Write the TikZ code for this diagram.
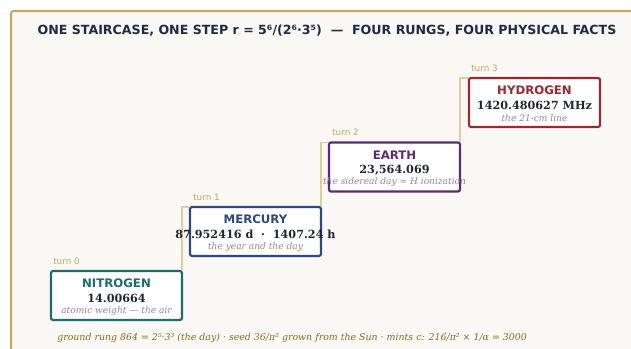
\documentclass[tikz,border=0pt]{standalone}
\usepackage{fontspec}
\setmainfont{DejaVu Serif}
\setsansfont{DejaVu Sans}
\usetikzlibrary{calc}
\definecolor{frame}{HTML}{C9A85A}
\definecolor{bgpaper}{HTML}{FAF8F4}
\definecolor{riser}{HTML}{E3CD96}
\definecolor{titlec}{HTML}{1F2A44}
\definecolor{numc}{HTML}{1F2733}
\definecolor{subc}{HTML}{8A8A95}
\definecolor{turnc}{HTML}{C9A55A}
\definecolor{footc}{HTML}{8C6A1E}
\definecolor{cN}{HTML}{1E6B70}
\definecolor{cM}{HTML}{2A4A80}
\definecolor{cE}{HTML}{5C2C73}
\definecolor{cH}{HTML}{9B2A2E}
\tikzset{
  rung/.style={draw=#1, line width=1.6pt, fill=white, rounded corners=1.5pt, minimum width=98.25pt, minimum height=36.75pt, inner sep=0pt},
  rname/.style={text=#1, font=\sffamily\bfseries\fontsize{8.8}{10}\selectfont, inner sep=0pt},
  rnum/.style={text=numc, font=\bfseries\fontsize{8.4}{10}\selectfont, inner sep=0pt},
  rsub/.style={text=subc, font=\itshape\fontsize{6.8}{8}\selectfont, inner sep=0pt},
  turnlab/.style={text=turnc, font=\sffamily\fontsize{6.6}{8}\selectfont, anchor=west, inner sep=0pt},
  riserline/.style={draw=riser, line width=1.1pt},
}
\begin{document}
\begin{tikzpicture}[x=0.75pt,y=-0.75pt]
\useasboundingbox (0,0) rectangle (631,349);
\fill[white] (0,0) rectangle (631,349);
\draw[draw=frame, fill=bgpaper, line width=1.6pt, rounded corners=2pt] (11,11) rectangle (660,380);
\node[text=titlec, font=\sffamily\bfseries\fontsize{9.45}{11}\selectfont] (title) at (327,31) {ONE STAIRCASE, ONE STEP r = 5⁶/(2⁶·3⁵)\ \ —\ \ FOUR RUNGS, FOUR PHYSICAL FACTS};
% boxes
\node[rung=cN] (n0) at (116.5,295.5) {};
\node[rung=cM] (n1) at (255.5,231.5) {};
\node[rung=cE] (n2) at (394.5,167) {};
\node[rung=cH] (n3) at (534.5,102.5) {};
% risers
\draw[riserline] ($(n0.north east)+(-1,0)$) |- ($(n1.north west)+(0,1)$);
\draw[riserline] ($(n1.north east)+(-1,0)$) |- ($(n2.north west)+(0,1)$);
\draw[riserline] ($(n2.north east)+(-1,0)$) |- ($(n3.north west)+(0,1)$);
% turn labels
\node[turnlab] (t0) at (53,261) {turn 0};
\node[turnlab] (t1) at (193,197) {turn 1};
\node[turnlab] (t2) at (332,132) {turn 2};
\node[turnlab] (t3) at (471,68) {turn 3};
% texts
\node[rname=cN] (n0a) at ($(n0.center)+(0,-12)$) {NITROGEN};
\node[rnum] (n0b) at ($(n0.center)+(0,3)$) {14.00664};
\node[rsub] (n0c) at ($(n0.center)+(0,15.5)$) {atomic weight — the air};
\node[rname=cM] (n1a) at ($(n1.center)+(0,-12)$) {MERCURY};
\node[rnum] (n1b) at ($(n1.center)+(0,3)$) {87.952416 d\ \ ·\ \ 1407.24 h};
\node[rsub] (n1c) at ($(n1.center)+(0,15.5)$) {the year and the day};
\node[rname=cE] (n2a) at ($(n2.center)+(0,-12)$) {EARTH};
\node[rnum] (n2b) at ($(n2.center)+(0,3)$) {23,564.069};
\node[rsub] (n2c) at ($(n2.center)+(0,15.5)$) {the sidereal day = H ionization};
\node[rname=cH] (n3a) at ($(n3.center)+(0,-12)$) {HYDROGEN};
\node[rnum] (n3b) at ($(n3.center)+(0,3)$) {1420.480627 MHz};
\node[rsub] (n3c) at ($(n3.center)+(0,15.5)$) {the 21-cm line};
% footer
\node[text=footc, font=\itshape\fontsize{7.05}{9}\selectfont, anchor=west, inner sep=0pt] (foot) at (57,337.5) {ground rung 864 = 2⁵·3³ (the day) · seed 36/π² grown from the Sun · mints c: 216/π² × 1/α = 3000};
\end{tikzpicture}
\end{document}
